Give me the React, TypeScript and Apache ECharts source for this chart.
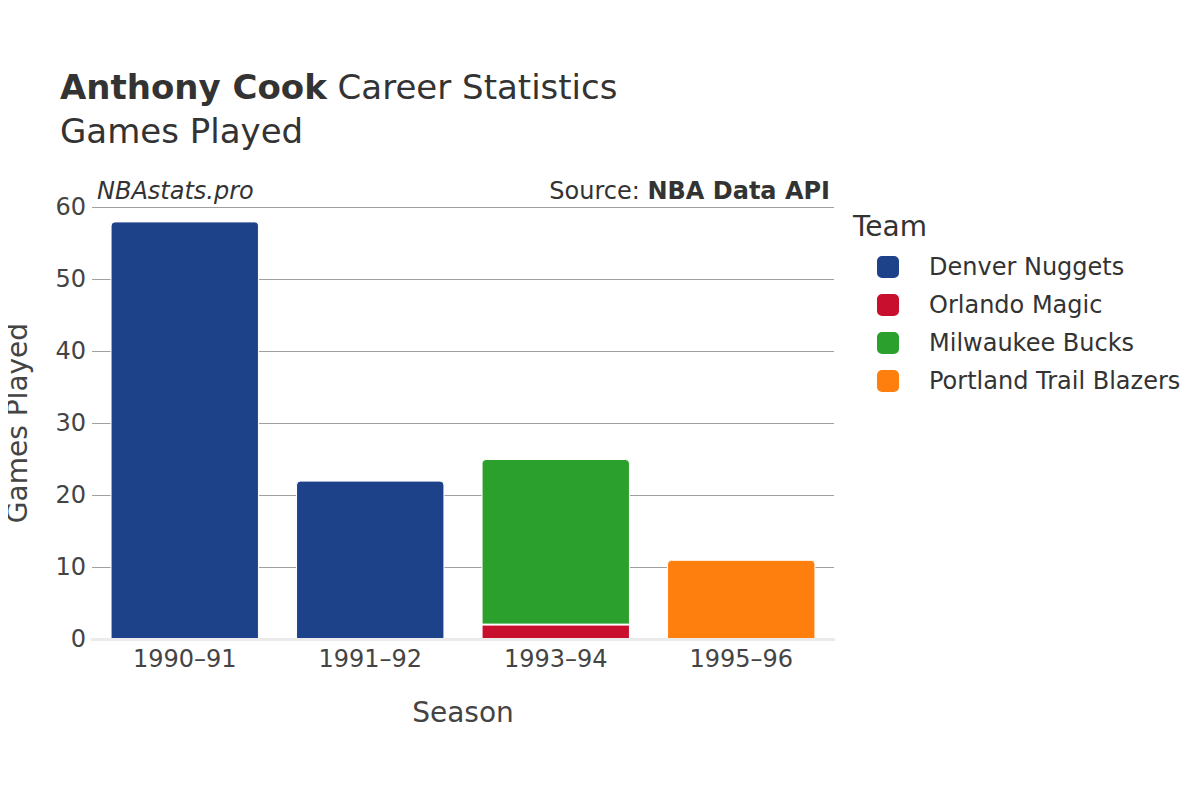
import React, { useEffect, useRef } from "react";
import * as echarts from "echarts";

const seasons = ["1990–91", "1991–92", "1993–94", "1995–96"];
const teams = ["Denver Nuggets", "Orlando Magic", "Milwaukee Bucks", "Portland Trail Blazers"];
const teamColors = ["#1d428a", "#c8102e", "#2ca02c", "#ff7f0e"];
const denverGames = [58, 22, null, null];
const orlandoGames = [null, null, 2, null];
const milwaukeeGames = [null, null, 23, null];
const portlandGames = [null, null, null, 11];
const teamValues = [denverGames, orlandoGames, milwaukeeGames, portlandGames];
const topRadius = [[4, 4, 0, 0], [0, 0, 0, 0], [4, 4, 0, 0], [4, 4, 0, 0]];

const FONT = "DejaVu Sans";

export default function App() {
  const ref = useRef<HTMLDivElement>(null);
  useEffect(() => {
    if (!ref.current) return;
    const chart = echarts.init(ref.current, null, { renderer: "svg" });
    chart.setOption({
      animation: false,
      backgroundColor: "#ffffff",
      textStyle: { fontFamily: FONT },
      grid: { left: 92, right: 366, top: 207, bottom: 161, containLabel: false, outerBoundsMode: "none" },
      legend: {
        orient: "vertical",
        left: 870,
        top: 249,
        itemWidth: 24,
        itemHeight: 24,
        itemGap: 12,
        icon: "roundRect",
        data: teams,
        textStyle: { fontSize: 24, color: "#333", fontFamily: FONT, padding: [0, 0, 0, 24] },
      },
      xAxis: {
        type: "category",
        data: seasons,
        axisTick: { show: false },
        axisLine: { show: true, lineStyle: { color: "#ebebeb", width: 3 } },
        axisLabel: { fontSize: 24, color: "#444", margin: 8, fontFamily: FONT },
        name: "Season",
        nameLocation: "middle",
        nameGap: 59,
        nameTextStyle: { fontSize: 28, color: "#444", fontFamily: FONT },
        z: 5,
      },
      yAxis: {
        type: "value",
        min: 0,
        max: 60,
        interval: 10,
        axisLine: { show: false },
        axisTick: { show: false },
        axisLabel: { fontSize: 24, color: "#444", margin: 6, fontFamily: FONT },
        splitLine: { lineStyle: { color: "#a0a0a0", width: 1 } },
        name: "Games Played",
        nameLocation: "middle",
        nameGap: 61,
        nameTextStyle: { fontSize: 28, color: "#444", fontFamily: FONT },
      },
      series: teams.map((t, i) => ({
        name: t,
        type: "bar",
        stack: "total",
        barWidth: "80%",
        data: teamValues[i],
        itemStyle: {
          color: teamColors[i],
          borderRadius: topRadius[i],
          borderColor: "#ffffff",
          borderWidth: 1,
        },
      })),
      graphic: [
        {
          type: "text",
          left: 60,
          top: 70,
          style: {
            text: "{b|Anthony Cook}{n| Career Statistics}",
            rich: {
              b: { fontSize: 34, fontWeight: "bold", fill: "#333", fontFamily: FONT },
              n: { fontSize: 34, fill: "#333", fontFamily: FONT },
            },
          },
        },
        {
          type: "text",
          left: 60,
          top: 114,
          style: { text: "Games Played", fontSize: 34, fill: "#333", fontFamily: FONT },
        },
        {
          type: "text",
          left: 97,
          top: 179,
          style: { text: "NBAstats.pro", fontSize: 24, fontStyle: "italic", fill: "#333", fontFamily: FONT },
        },
        {
          type: "text",
          right: 370,
          top: 179,
          style: {
            text: "{n|Source: }{b|NBA Data API}",
            rich: {
              n: { fontSize: 24, fill: "#333", fontFamily: FONT },
              b: { fontSize: 24, fontWeight: "bold", fill: "#333", fontFamily: FONT },
            },
          },
        },
        {
          type: "text",
          left: 853,
          top: 212,
          style: { text: "Team", fontSize: 28, fill: "#333", fontFamily: FONT },
        },
      ],
    });
    return () => chart.dispose();
  }, []);
  return <div ref={ref} style={{ width: 1200, height: 800, margin: -8 }} />;
}
